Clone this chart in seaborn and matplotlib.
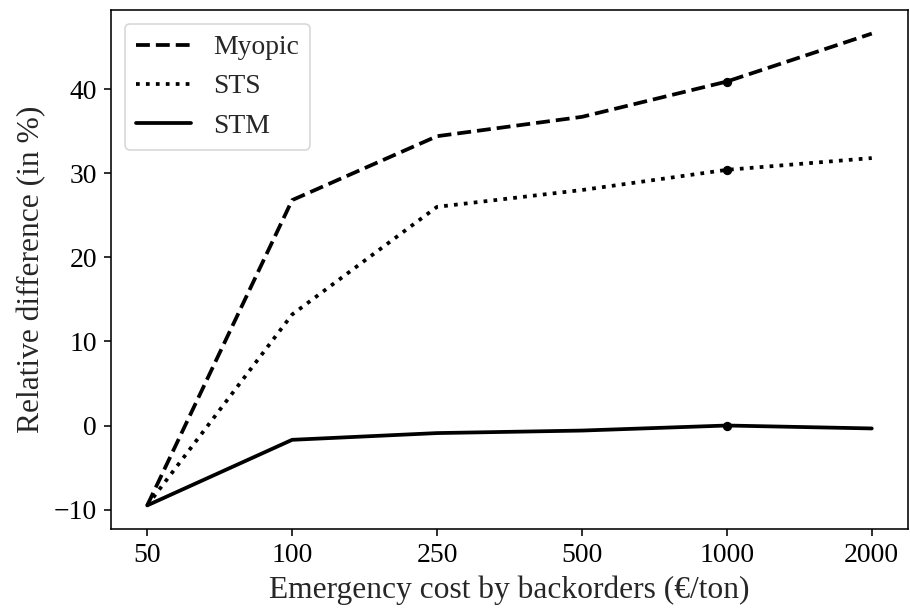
import matplotlib
matplotlib.use("Agg")
import matplotlib.pyplot as plt
import seaborn as sns
import pandas as pd

costs = ["50", "100", "250", "500", "1000", "2000"]
myopic = [-9.5, 26.8, 34.4, 36.7, 40.9, 46.6]
sts = [-9.5, 13.2, 26.0, 28.0, 30.4, 31.8]
stm = [-9.5, -1.7, -0.9, -0.6, 0.0, -0.35]
methods = ["Myopic", "STS", "STM"]
highlight = "1000"

sns.set_style("ticks")
plt.rcParams["font.family"] = ["Liberation Serif", "DejaVu Serif"]
plt.rcParams["mathtext.fontset"] = "stix"

df = pd.DataFrame({
    "cost": costs * 3,
    "value": myopic + sts + stm,
    "method": [m for m in methods for _ in costs],
})

fig = plt.figure(figsize=(9.1, 6.13), dpi=100)
ax = fig.add_axes([111 / 910, 1 - 529 / 613, (908 - 111) / 910, (529 - 10) / 613])

LW = 2.7
styles = {"Myopic": (3.7, 1.6), "STS": (1, 1.65), "STM": ""}
sns.lineplot(data=df, x="cost", y="value", style="method", dashes=styles,
             color="black", linewidth=LW, ax=ax, sort=False)
sub = df[df["cost"] == highlight]
sns.scatterplot(data=sub, x="cost", y="value", color="black", s=45,
                edgecolor="black", linewidth=0, ax=ax, legend=False, zorder=5)

for s in ax.spines.values():
    s.set_visible(True)
    s.set_color("black")
    s.set_linewidth(1.14)

ax.set_xlabel("Emergency cost by backorders (€/ton)", fontsize=22.7, labelpad=5.7)
ax.set_ylabel("Relative difference (in %)", fontsize=22.7, labelpad=5.7)
ax.tick_params(labelsize=19.9, length=5, width=1.14, pad=5, colors="black")
ax.set_yticks([-10, 0, 10, 20, 30, 40])
ax.margins(x=0.05, y=0.05)

leg = ax.legend(loc="upper left", fontsize=19.9, frameon=True)
leg.get_frame().set_edgecolor("#cccccc")
leg.get_frame().set_linewidth(1.14)
for h in leg.get_lines():
    h.set_linewidth(LW)

fig.savefig("out.png", dpi=100)
